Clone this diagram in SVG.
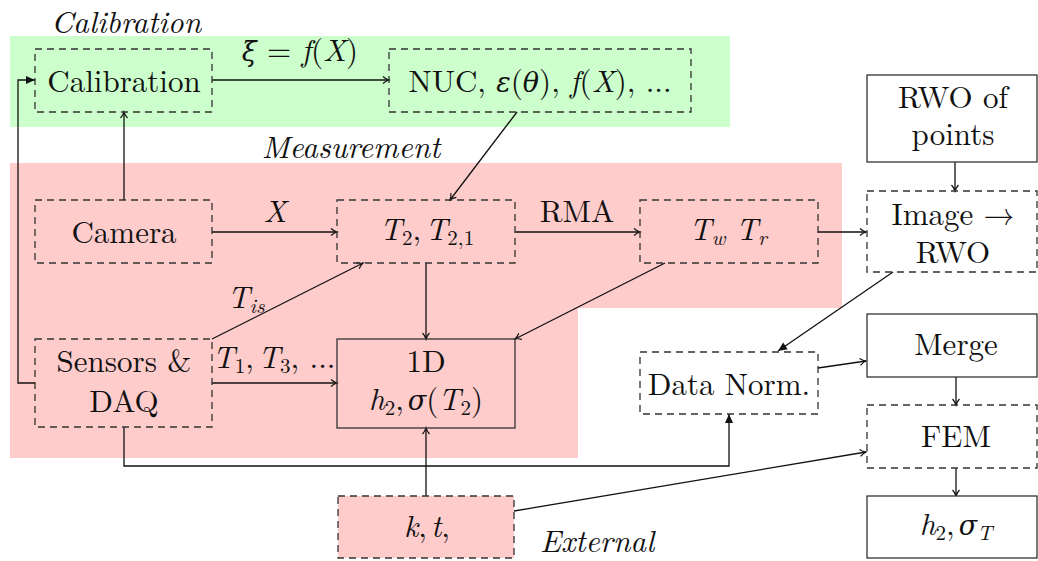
<svg xmlns="http://www.w3.org/2000/svg" width="1038" height="561" viewBox="0 0 1038 561">
<style>
text{font-size:31px;fill:#111;text-anchor:middle}
.it{font-style:italic}
.s{font-size:21px}
.dash{fill:none;stroke:#333;stroke-width:1.3;stroke-dasharray:7 5}
.solid{fill:#fff;stroke:#333;stroke-width:1.3}
.ln{fill:none;stroke:#111;stroke-width:1.3}
.ar{marker-end:url(#open)}
.af{marker-end:url(#fill)}
</style>
<defs>
<marker id="open" markerWidth="12" markerHeight="12" refX="10" refY="6" orient="auto" markerUnits="userSpaceOnUse">
<path d="M4,2.5 Q7,5.2 10,6 Q7,6.8 4,9.5" fill="none" stroke="#111" stroke-width="1.2"/>
</marker>
<marker id="fill" markerWidth="12" markerHeight="12" refX="10" refY="6" orient="auto" markerUnits="userSpaceOnUse">
<path d="M1,2 L10,6 L1,10 Z" fill="#111"/>
</marker>
</defs>
<g id="regions">
<rect x="10" y="36" width="720" height="91" fill="#ccffcc"/>
<path d="M10,163 H842 V308 H578 V458 H10 Z" fill="#ffcccc"/>
<text font-family="Latin Modern Roman, Liberation Serif, serif" class="it" x="126" y="33">Calibration</text>
<text font-family="Latin Modern Roman, Liberation Serif, serif" class="it" x="351" y="158">Measurement</text>
<text font-family="Latin Modern Roman, Liberation Serif, serif" class="it" x="597" y="552">External</text>
</g>
<g id="connectors">
<path class="ln ar" d="M212,80 H389"/>
<text font-family="Latin Modern Roman, Liberation Serif, serif" x="300" y="61"><tspan class="it" font-family="DejaVu Serif" font-size="27">ξ</tspan> = <tspan class="it">f</tspan>(<tspan class="it">X</tspan>)</text>
<path class="ln ar" d="M124,200 V112"/>
<path class="ln ar" d="M517,112 L450,200"/>
<path class="ln ar" d="M212,232 H337"/>
<text font-family="Latin Modern Roman, Liberation Serif, serif" class="it" x="275" y="222">X</text>
<path class="ln ar" d="M515,232 H640"/>
<text font-family="Latin Modern Roman, Liberation Serif, serif" x="577" y="222">RMA</text>
<path class="ln ar" d="M818,232 H866"/>
<path class="ln ar" d="M955,162 V191"/>
<path class="ln ar" d="M212,339 L363,263"/>
<text font-family="Latin Modern Roman, Liberation Serif, serif" x="246" y="308"><tspan class="it">T</tspan><tspan class="it s" dy="5">is</tspan></text>
<path class="ln ar" d="M212,383 H337"/>
<text font-family="Latin Modern Roman, Liberation Serif, serif" x="274" y="368"><tspan class="it">T</tspan><tspan class="s" dy="5">1</tspan><tspan dy="-5">,</tspan><tspan class="it" dx="4">T</tspan><tspan class="s" dy="5">3</tspan><tspan dy="-5">, ...</tspan></text>
<path class="ln ar" d="M426,263 V339"/>
<path class="ln ar" d="M665,263 L515,339"/>
<path class="ln af" d="M893,272 L778,351"/>
<path class="ln ar" d="M818,368 L866,361"/>
<path class="ln ar" d="M956,377 V405"/>
<path class="ln ar" d="M956,468 V496"/>
<path class="ln af" d="M124,427 V466 H729 V414"/>
<path class="ln af" d="M35,383 H18 V80 H35"/>
<path class="ln ar" d="M426,496 V428"/>
<path class="ln ar" d="M514,511 L866,452"/>
</g>
<g id="calibration">
<rect class="dash" x="35" y="49" width="177" height="63"/>
<text font-family="Latin Modern Roman, Liberation Serif, serif" x="124" y="92">Calibration</text>
</g>
<g id="nuc">
<rect class="dash" x="389" y="49" width="302" height="63"/>
<text font-family="Latin Modern Roman, Liberation Serif, serif" x="540" y="92">NUC, <tspan class="it" font-family="DejaVu Serif" font-size="27">ε</tspan>(<tspan class="it" font-family="DejaVu Serif" font-size="27">θ</tspan>), <tspan class="it">f</tspan>(<tspan class="it">X</tspan>), ...</text>
</g>
<g id="camera">
<rect class="dash" x="35" y="200" width="177" height="63"/>
<text font-family="Latin Modern Roman, Liberation Serif, serif" x="124" y="243">Camera</text>
</g>
<g id="t2">
<rect class="dash" x="337" y="200" width="178" height="63"/>
<text font-family="Latin Modern Roman, Liberation Serif, serif" x="427" y="240"><tspan class="it">T</tspan><tspan class="s" dy="5">2</tspan><tspan dy="-5">,</tspan><tspan class="it" dx="4">T</tspan><tspan class="s" dy="5">2,1</tspan></text>
</g>
<g id="twtr">
<rect class="dash" x="640" y="200" width="178" height="63"/>
<text font-family="Latin Modern Roman, Liberation Serif, serif" x="728" y="240"><tspan class="it">T</tspan><tspan class="it s" dy="5">w</tspan><tspan dy="-5"> </tspan><tspan class="it">T</tspan><tspan class="it s" dy="5">r</tspan></text>
</g>
<g id="rwo-points">
<rect class="solid" x="867" y="75" width="170" height="87"/>
<text font-family="Latin Modern Roman, Liberation Serif, serif" x="953" y="108">RWO of</text>
<text font-family="Latin Modern Roman, Liberation Serif, serif" x="953" y="145">points</text>
</g>
<g id="image-rwo">
<rect class="dash" fill="#fff" x="867" y="191" width="170" height="81"/>
<text font-family="Latin Modern Roman, Liberation Serif, serif" x="953" y="225">Image →</text>
<text font-family="Latin Modern Roman, Liberation Serif, serif" x="953" y="263">RWO</text>
</g>
<g id="sensors">
<rect class="dash" x="35" y="339" width="177" height="88"/>
<text font-family="Latin Modern Roman, Liberation Serif, serif" x="124" y="372">Sensors &amp;</text>
<text font-family="Latin Modern Roman, Liberation Serif, serif" x="124" y="412">DAQ</text>
</g>
<g id="oned">
<rect x="337" y="339" width="178" height="89" fill="none" stroke="#333" stroke-width="1.3"/>
<text font-family="Latin Modern Roman, Liberation Serif, serif" x="426" y="372">1D</text>
<text font-family="Latin Modern Roman, Liberation Serif, serif" x="426" y="410"><tspan class="it">h</tspan><tspan class="s" dy="5">2</tspan><tspan dy="-5">,</tspan><tspan class="it" dx="4" font-family="DejaVu Serif" font-size="27">σ</tspan>(<tspan class="it">T</tspan><tspan class="s" dy="5">2</tspan><tspan dy="-5">)</tspan></text>
</g>
<g id="datanorm">
<rect class="dash" x="640" y="352" width="178" height="62"/>
<text font-family="Latin Modern Roman, Liberation Serif, serif" x="729" y="395">Data Norm.</text>
</g>
<g id="merge">
<rect class="solid" x="867" y="314" width="170" height="63"/>
<text font-family="Latin Modern Roman, Liberation Serif, serif" x="956" y="355">Merge</text>
</g>
<g id="fem">
<rect class="dash" x="867" y="405" width="170" height="63"/>
<text font-family="Latin Modern Roman, Liberation Serif, serif" x="956" y="447">FEM</text>
</g>
<g id="h2sigma">
<rect class="solid" x="867" y="496" width="170" height="62"/>
<text font-family="Latin Modern Roman, Liberation Serif, serif" x="956" y="535"><tspan class="it">h</tspan><tspan class="s" dy="5">2</tspan><tspan dy="-5">,</tspan><tspan class="it" dx="4" font-family="DejaVu Serif" font-size="27">σ</tspan><tspan class="it s" dy="5">T</tspan></text>
</g>
<g id="external">
<rect x="338" y="496" width="176" height="62" fill="#ffcccc" stroke="#333" stroke-width="1.3" stroke-dasharray="7 5"/>
<text font-family="Latin Modern Roman, Liberation Serif, serif" x="427" y="537"><tspan class="it">k</tspan>,<tspan class="it" dx="4">t</tspan>,</text>
</g>
</svg>
